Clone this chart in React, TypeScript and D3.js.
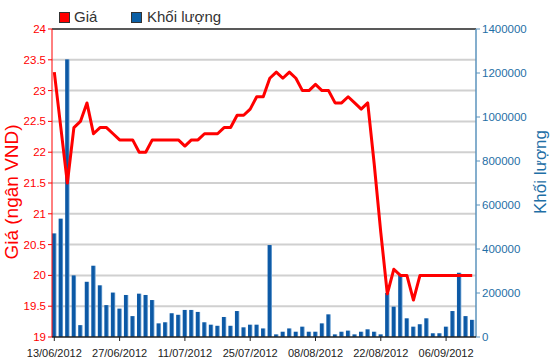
import * as d3 from "d3";

// trading days shown on the chart
const dates = [
  "13/06/2012", "14/06/2012", "15/06/2012", "18/06/2012", "19/06/2012", "20/06/2012", "21/06/2012",
  "22/06/2012", "25/06/2012", "26/06/2012", "27/06/2012", "28/06/2012", "29/06/2012",
  "02/07/2012", "03/07/2012", "04/07/2012", "05/07/2012", "06/07/2012", "09/07/2012", "10/07/2012",
  "11/07/2012", "12/07/2012", "13/07/2012", "16/07/2012", "17/07/2012", "18/07/2012", "19/07/2012",
  "20/07/2012", "23/07/2012", "24/07/2012", "25/07/2012", "26/07/2012", "27/07/2012", "30/07/2012",
  "31/07/2012", "01/08/2012", "02/08/2012", "03/08/2012", "06/08/2012", "07/08/2012", "08/08/2012",
  "09/08/2012", "10/08/2012", "13/08/2012", "14/08/2012", "15/08/2012", "16/08/2012", "17/08/2012",
  "20/08/2012", "21/08/2012", "22/08/2012", "23/08/2012", "24/08/2012", "27/08/2012", "28/08/2012",
  "29/08/2012", "30/08/2012", "31/08/2012", "04/09/2012", "05/09/2012", "06/09/2012", "07/09/2012",
  "10/09/2012", "11/09/2012", "12/09/2012",
];

// price (thousand VND)
const prices = [
  23.3, 22.4, 21.5, 22.4, 22.5, 22.8, 22.3, 22.4, 22.4, 22.3, 22.2, 22.2, 22.2, 22.0, 22.0,
  22.2, 22.2, 22.2, 22.2, 22.2, 22.1, 22.2, 22.2, 22.3, 22.3, 22.3, 22.4, 22.4, 22.6, 22.6,
  22.7, 22.9, 22.9, 23.2, 23.3, 23.2, 23.3, 23.2, 23.0, 23.0, 23.1, 23.0, 23.0, 22.8, 22.8,
  22.9, 22.8, 22.7, 22.8, 21.8, 20.7, 19.7, 20.1, 20.0, 20.0, 19.6, 20.0, 20.0, 20.0, 20.0,
  20.0, 20.0, 20.0, 20.0, 20.0,
];

// volume (shares)
const volumes = [
  471000, 538000, 1262000, 280000, 54000, 251000, 324000, 235000, 145000, 202000, 129000,
  191000, 95000, 197000, 191000, 168000, 62000, 67000, 108000, 101000, 123000, 123000,
  114000, 67000, 56000, 51000, 91000, 51000, 118000, 44000, 56000, 56000, 39000, 418000,
  12000, 24000, 39000, 24000, 47000, 24000, 24000, 62000, 103000, 12000, 24000, 29000,
  12000, 24000, 35000, 24000, 12000, 200000, 138000, 283000, 85000, 47000, 58000, 85000,
  17000, 17000, 47000, 118000, 292000, 95000, 78000,
];

const priceTicks = [19, 19.5, 20, 20.5, 21, 21.5, 22, 22.5, 23, 23.5, 24];
const volumeTicks = [0, 200000, 400000, 600000, 800000, 1000000, 1200000, 1400000];
const dateTicks = ["13/06/2012", "27/06/2012", "11/07/2012", "25/07/2012", "08/08/2012", "22/08/2012", "06/09/2012"];

const W = 550;
const H = 364;
const m = { left: 52, right: 476, top: 29, bottom: 337 };
const font = "'Liberation Sans', Arial, sans-serif";
const red = "#ff0000";
const blue = "#1f6fa6";

const App = () => {
  const x = d3.scalePoint<string>().domain(dates).range([54.3, 472.2]);
  const yP = d3.scaleLinear().domain([19, 24]).range([m.bottom, m.top]);
  const yV = d3.scaleLinear().domain([0, 1400000]).range([m.bottom, m.top]);
  const line = d3
    .line<number>()
    .x((_, i) => x(dates[i]) as number)
    .y((d) => yP(d));
  const bw = 4.4;

  return (
    <svg
      width={W}
      height={H}
      style={{ position: "absolute", left: 0, top: 0, background: "#fff" }}
      fontFamily={font}
    >
      <defs>
        <linearGradient id="barGrad" x1="0" x2="1" y1="0" y2="0">
          <stop offset="0" stopColor="#0f5ca8" />
          <stop offset="0.65" stopColor="#0b57a3" />
          <stop offset="1" stopColor="#7fb0dd" />
        </linearGradient>
      </defs>

      {/* grid */}
      {priceTicks.slice(1, -1).map((t) => (
        <line key={t} x1={m.left} x2={m.right} y1={yP(t)} y2={yP(t)} stroke="#d0d0d0" strokeWidth={2} />
      ))}
      <line x1={m.left} x2={m.right} y1={m.top} y2={m.top} stroke="#222" strokeWidth={1.5} />

      {/* volume bars */}
      {volumes.map((v, i) => (
        <rect
          key={i}
          x={(x(dates[i]) as number) - bw / 2}
          y={yV(v)}
          width={bw}
          height={m.bottom - yV(v)}
          fill="url(#barGrad)"
        />
      ))}

      {/* price line */}
      <path d={line(prices) || ""} fill="none" stroke={red} strokeWidth={3} strokeLinejoin="round" />

      {/* left axis */}
      <line x1={m.left} x2={m.left} y1={m.top} y2={m.bottom} stroke={red} strokeWidth={1} />
      {priceTicks.map((t) => (
        <g key={t}>
          <line x1={m.left - 4} x2={m.left} y1={yP(t)} y2={yP(t)} stroke={red} />
          <text x={m.left - 6} y={yP(t)} dy="0.35em" textAnchor="end" fontSize={11.5} fill={red}>
            {t}
          </text>
        </g>
      ))}
      <text
        transform={`translate(18,192) rotate(-90)`}
        textAnchor="middle"
        fontSize={19}
        fill={red}
      >
        Giá (ngân VND)
      </text>

      {/* right axis */}
      <line x1={m.right} x2={m.right} y1={m.top} y2={m.bottom} stroke="#5b93bd" strokeWidth={1.5} />
      {volumeTicks.map((t) => (
        <g key={t}>
          <line x1={m.right} x2={m.right + 4} y1={yV(t)} y2={yV(t)} stroke="#5b93bd" />
          <text x={m.right + 6} y={yV(t)} dy="0.35em" fontSize={11.5} fill={blue}>
            {t}
          </text>
        </g>
      ))}
      <text
        transform={`translate(546,172) rotate(-90)`}
        textAnchor="middle"
        fontSize={17}
        fill={blue}
      >
        Khối lượng
      </text>

      {/* bottom axis */}
      <line x1={m.left} x2={m.right} y1={m.bottom} y2={m.bottom} stroke="#222" strokeWidth={1.5} />
      {dateTicks.map((d) => (
        <g key={d}>
          <line x1={x(d)} x2={x(d)} y1={m.bottom} y2={m.bottom + 4} stroke="#222" />
          <text x={x(d)} y={357} textAnchor="middle" fontSize={11} fill="#222">
            {d}
          </text>
        </g>
      ))}

      {/* legend */}
      <rect x={59.5} y={12.5} width={10} height={10} fill={red} stroke="#333" />
      <text x={74} y={22} fontSize={15} fill="#333">
        Giá
      </text>
      <rect x={131.5} y={12.5} width={10} height={10} fill="#0b5fa5" stroke="#333" />
      <text x={147} y={22} fontSize={15} fill="#333">
        Khối lượng
      </text>
    </svg>
  );
};

export default App;
